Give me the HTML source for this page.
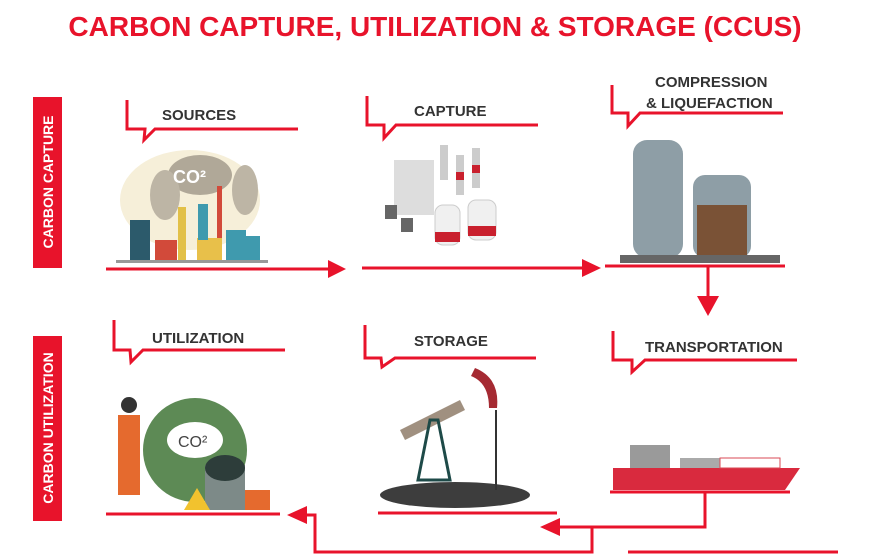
<!DOCTYPE html>
<html><head><meta charset="utf-8"><style>
html,body{margin:0;padding:0;background:#fff;}
svg{display:block;font-family:"Liberation Sans",sans-serif;}
.h{font-weight:bold;fill:#333;font-size:15px;}
</style></head><body>
<svg width="871" height="554" viewBox="0 0 871 554" xmlns="http://www.w3.org/2000/svg">
<text x="435" y="36" text-anchor="middle" font-size="28" font-weight="bold" fill="#e8132b">CARBON CAPTURE, UTILIZATION &amp; STORAGE (CCUS)</text>

<rect x="33" y="97" width="29" height="171" fill="#e8132b"/>
<text transform="translate(53,182) rotate(-90)" text-anchor="middle" font-size="14" font-weight="bold" fill="#fff">CARBON CAPTURE</text>
<rect x="33" y="336" width="29" height="185" fill="#e8132b"/>
<text transform="translate(53,428) rotate(-90)" text-anchor="middle" font-size="14" font-weight="bold" fill="#fff">CARBON UTILIZATION</text>

<g fill="none" stroke="#e8132b" stroke-width="3">
<path d="M127,100 V129 H145 L144,140 L155,129 H298"/>
<path d="M367,96 V125 H384 L384,138 L396,125 H538"/>
<path d="M612,85 V113 H628 L628,126 L640,113 H783"/>
<path d="M114,320 V350 H130 L131,362 L143,350 H285"/>
<path d="M365,325 V358 H381 L382,367 L395,358 H536"/>
<path d="M613,331 V360 H632 L632,372 L645,360 H797"/>
<path d="M106,269 H335"/>
<path d="M362,268 H590"/>
<path d="M605,266 H785"/>
<path d="M708,266 V300"/>
<path d="M106,514 H280"/>
<path d="M378,513 H557"/>
<path d="M610,492 H790"/>
<path d="M705,492 V527 H557"/>
<path d="M592,527 V552 H315 V515 H300"/>
<path d="M628,552 H838"/>
</g>
<g fill="#e8132b">
<polygon points="328,260 346,269 328,278"/>
<polygon points="582,259 601,268 582,277"/>
<polygon points="697,296 719,296 708,316"/>
<polygon points="560,518 540,527 560,536"/>
<polygon points="307,506 287,515 307,524"/>
</g>

<text class="h" x="162" y="120">SOURCES</text>
<text class="h" x="414" y="116">CAPTURE</text>
<text class="h" x="655" y="87">COMPRESSION</text>
<text class="h" x="646" y="108">&amp; LIQUEFACTION</text>
<text class="h" x="152" y="343">UTILIZATION</text>
<text class="h" x="414" y="346">STORAGE</text>
<text class="h" x="645" y="352">TRANSPORTATION</text>

<!-- sources -->
<ellipse cx="190" cy="200" rx="70" ry="50" fill="#f6efd9"/>
<ellipse cx="200" cy="175" rx="32" ry="20" fill="#b0a898"/>
<ellipse cx="165" cy="195" rx="15" ry="25" fill="#bdb5a5"/>
<ellipse cx="245" cy="190" rx="13" ry="25" fill="#bdb5a5"/>
<text x="173" y="183" font-size="18" font-weight="bold" fill="#fff">CO²</text>
<rect x="130" y="220" width="20" height="42" fill="#2c5a6b"/>
<rect x="155" y="240" width="22" height="22" fill="#d24a3a"/>
<rect x="178" y="207" width="8" height="55" fill="#e2c048"/>
<rect x="197" y="238" width="25" height="24" fill="#e8c04a"/>
<rect x="198" y="204" width="10" height="36" fill="#3f9aae"/>
<rect x="217" y="186" width="5" height="52" fill="#d24a3a"/>
<rect x="226" y="230" width="20" height="32" fill="#3f9aae"/>
<rect x="246" y="236" width="14" height="26" fill="#3f9aae"/>
<rect x="116" y="260" width="152" height="3" fill="#999"/>
<!-- capture -->
<rect x="394" y="160" width="40" height="55" fill="#ddd"/>
<rect x="440" y="145" width="8" height="35" fill="#ccc"/><rect x="456" y="155" width="8" height="40" fill="#ccc"/><rect x="472" y="148" width="8" height="40" fill="#ccc"/>
<rect x="456" y="172" width="8" height="8" fill="#c9202e"/><rect x="472" y="165" width="8" height="8" fill="#c9202e"/>
<rect x="435" y="205" width="25" height="40" rx="8" fill="#f0f0f0" stroke="#ccc"/>
<rect x="468" y="200" width="28" height="40" rx="8" fill="#f0f0f0" stroke="#ccc"/>
<rect x="435" y="232" width="25" height="10" fill="#c9202e"/><rect x="468" y="226" width="28" height="10" fill="#c9202e"/>
<rect x="385" y="205" width="12" height="14" fill="#666"/><rect x="401" y="218" width="12" height="14" fill="#666"/>
<!-- compression -->
<rect x="633" y="140" width="50" height="118" rx="14" fill="#8e9ea6"/>
<rect x="693" y="175" width="58" height="83" rx="12" fill="#8e9ea6"/>
<rect x="697" y="205" width="50" height="50" fill="#7a5236"/>
<rect x="620" y="255" width="160" height="8" fill="#666"/>
<!-- utilization -->
<circle cx="195" cy="450" r="52" fill="#5d8a55"/>
<ellipse cx="195" cy="440" rx="28" ry="18" fill="#fff"/>
<text x="178" y="447" font-size="16" fill="#444">CO²</text>
<rect x="118" y="415" width="22" height="80" fill="#e56a2e"/>
<circle cx="129" cy="405" r="8" fill="#333"/>
<rect x="205" y="465" width="40" height="45" fill="#7d8a88"/>
<ellipse cx="225" cy="468" rx="20" ry="13" fill="#2d3d3a"/>
<rect x="245" y="490" width="25" height="20" fill="#e56a2e"/>
<polygon points="184,510 197,488 210,510" fill="#f2c22e"/>
<!-- storage -->
<ellipse cx="455" cy="495" rx="75" ry="13" fill="#3d3d3d"/>
<polygon points="400,430 460,400 465,410 405,440" fill="#a09080"/>
<path d="M475,368 q25,10 22,40 l-8,0 q0,-25 -18,-32 z" fill="#a52a32"/>
<polygon points="418,480 430,420 438,420 450,480" fill="none" stroke="#1e4a48" stroke-width="3"/>
<rect x="495" y="410" width="2" height="80" fill="#333"/>
<!-- ship -->
<polygon points="613,468 800,468 785,490 613,490" fill="#d92a3e"/>
<rect x="630" y="445" width="40" height="23" fill="#9a9a9a"/>
<rect x="680" y="458" width="40" height="10" fill="#aaa"/>
<rect x="720" y="458" width="60" height="10" fill="none" stroke="#d94a55"/>
</svg>
</body></html>
